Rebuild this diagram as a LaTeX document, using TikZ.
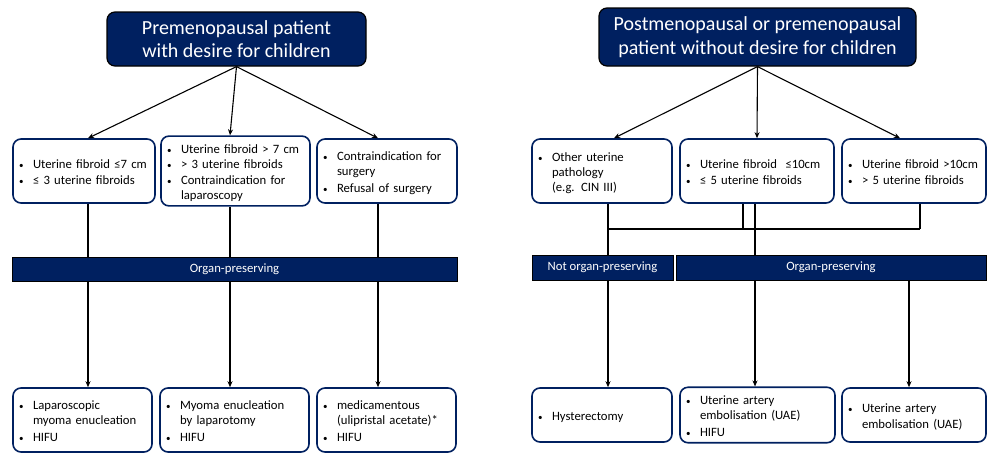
\documentclass[tikz,border=0pt]{standalone}
\usepackage{fontspec}
\setmainfont{Carlito}
\usetikzlibrary{arrows.meta,positioning}
\definecolor{navy}{HTML}{002060}
\newcommand{\bpt}[1]{\par\noindent\makebox[14pt][l]{\small\textbullet}%
  \begin{tabular}[t]{@{}l@{}}#1\end{tabular}\par}
\tikzset{
  headbox/.style={draw=black, line width=1.2pt, fill=navy, rounded corners=8pt,
    text=white, align=center, font=\fontsize{20}{23.5}\selectfont, inner sep=0pt},
  critbox/.style={draw=navy, line width=1.6pt, fill=white, rounded corners=8pt,
    align=left, inner xsep=6pt, inner ysep=2pt, font=\fontsize{12.7}{15.3}\selectfont},
  barbox/.style={draw=black, line width=1pt, fill=navy, text=white,
    font=\fontsize{12.7}{14}\selectfont, inner sep=0pt},
  arr/.style={line width=1.1pt, -{Stealth[length=6pt,width=5pt]}},
  link/.style={line width=1.1pt}
}
\begin{document}
\begin{tikzpicture}[x=1pt,y=-1pt]
\useasboundingbox (0,0) rectangle (987,453);

% left tree: with desire for children
\node[headbox, minimum width=259pt, minimum height=54pt] (wish) at (236.5,39)
  {Premenopausal patient\\with desire for children};
\node[critbox, text width=130pt, minimum height=64pt] (small) at (84,171)
  {\bpt{Uterine fibroid ≤7 cm}\bpt{≤ 3 uterine fibroids}};
\node[critbox, text width=137pt, minimum height=64pt] (large) at (235.5,171)
  {\bpt{Uterine fibroid > 7 cm}\bpt{> 3 uterine fibroids}\bpt{Contraindication for\\laparoscopy}};
\node[critbox, text width=128pt, minimum height=64pt] (nosurg) at (387,171)
  {\bpt{Contraindication for\\surgery}\bpt{Refusal of surgery}};
\node[barbox, minimum width=445pt, minimum height=24pt] (keepl) at (234.5,269) {Organ-preserving};
\node[critbox, text width=127pt, minimum height=64pt] (lapar) at (82.5,420)
  {\bpt{Laparoscopic\\myoma enucleation}\bpt{HIFU}};
\node[critbox, text width=137pt, minimum height=64pt] (open) at (234.5,420)
  {\bpt{Myoma enucleation\\by laparotomy}\bpt{HIFU}};
\node[critbox, text width=127pt, minimum height=64pt] (drug) at (386.5,420)
  {\bpt{medicamentous\\(ulipristal acetate)*}\bpt{HIFU}};

% right tree: without desire for children
\node[headbox, minimum width=317pt, minimum height=58pt] (nowish) at (757.5,37)
  {Postmenopausal or premenopausal\\patient without desire for children};
\node[critbox, text width=128pt, minimum height=64pt] (other) at (602,171)
  {\bpt{Other uterine\\pathology\\(e.g. CIN III)}};
\node[critbox, text width=142pt, minimum height=64pt] (mid) at (757,171)
  {\bpt{Uterine fibroid \ ≤10cm}\bpt{≤ 5 uterine fibroids}};
\node[critbox, text width=132pt, minimum height=64pt] (big) at (914,171)
  {\bpt{Uterine fibroid >10cm}\bpt{> 5 uterine fibroids}};
\node[barbox, minimum width=141pt, minimum height=25pt] (lose) at (602.5,267.5) {Not organ-preserving};
\node[barbox, minimum width=310pt, minimum height=25pt] (keepr) at (831,267.5) {Organ-preserving};
\node[critbox, text width=128pt, minimum height=54pt] (hyst) at (602,415)
  {\bpt{Hysterectomy}};
\node[critbox, text width=143pt, minimum height=54pt] (uaeh) at (757.5,415)
  {\bpt{Uterine artery\\embolisation (UAE)}\bpt{HIFU}};
\node[critbox, text width=132pt, minimum height=54pt] (uae) at (914,415)
  {\bpt{Uterine artery\\embolisation (UAE)}};

% columns
\coordinate (ca) at (88,0);
\coordinate (cb) at (230,0);
\coordinate (cc) at (378,0);
\coordinate (cg) at (608,0);
\coordinate (ch) at (743,0);
\coordinate (ci) at (755,0);
\coordinate (cj) at (920,0);
\coordinate (ck) at (909,0);
\coordinate (jl) at (608,229);
\coordinate (jr) at (920,229);

\draw[arr] (wish.south) -- (small.north -| ca);
\draw[arr] (wish.south) -- (large.north -| cb);
\draw[arr] (wish.south) -- (nosurg.north -| cc);
\foreach \n/\c in {small/ca, large/cb, nosurg/cc}
  \draw[link] (\n.south -| \c) -- (keepl.north -| \c);
\draw[arr] (keepl.south -| ca) -- (lapar.north -| ca);
\draw[arr] (keepl.south -| cb) -- (open.north -| cb);
\draw[arr] (keepl.south -| cc) -- (drug.north -| cc);

\draw[arr] (nowish.south) -- ([xshift=12pt]other.north);
\draw[arr] (nowish.south) -- (mid.north);
\draw[arr] (nowish.south) -- ([xshift=-14pt]big.north);
\draw[link] (other.south -| cg) -- (lose.north -| cg);
\draw[link] (jl) -- (jr);
\draw[link] (mid.south -| ch) -- (jl -| ch);
\draw[link] (mid.south -| ci) -- (keepr.north -| ci);
\draw[link] (big.south -| cj) -- (jr);
\draw[arr] (lose.south -| cg) -- (hyst.north -| cg);
\draw[arr] (keepr.south -| ci) -- (uaeh.north -| ci);
\draw[arr] (keepr.south -| ck) -- (uae.north -| ck);
\end{tikzpicture}
\end{document}
